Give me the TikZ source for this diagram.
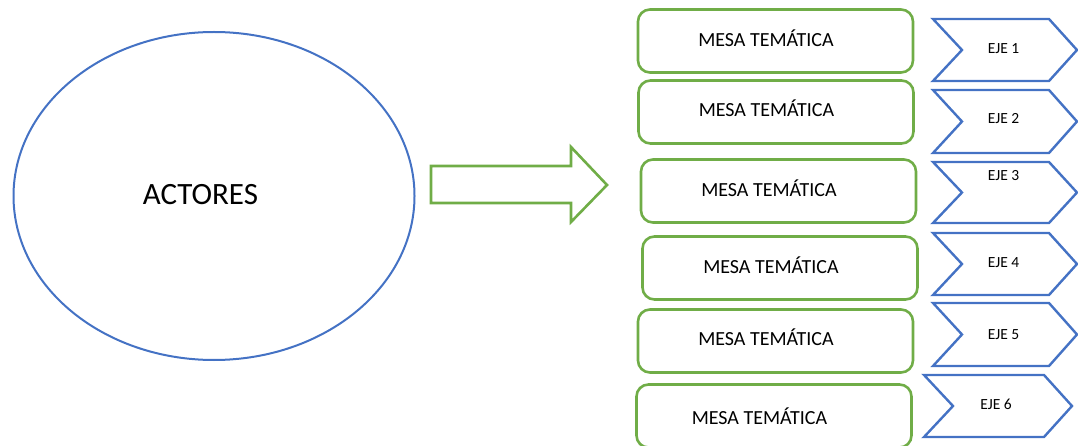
\documentclass[tikz,border=0pt]{standalone}
\usepackage{fontspec}
\setmainfont{Carlito}
\usetikzlibrary{shapes.geometric}
\definecolor{verde}{HTML}{70AD47}
\definecolor{azul}{HTML}{4472C4}

\begin{document}
\begin{tikzpicture}
	[x=1pt, y=-1pt,
	 actor/.style={ellipse, draw=azul, line width=2pt, minimum width=401pt, minimum height=328pt},
	 mesa/.style={rectangle, rounded corners=12pt, draw=verde, line width=2.6pt, minimum width=275pt, minimum height=63pt},
	 mesatxt/.style={anchor=base, inner sep=0pt, font=\fontsize{20}{24}\selectfont},
	 ejetxt/.style={anchor=base, inner sep=0pt, font=\fontsize{15.5}{18}\selectfont},
	 chevron/.style={draw=azul, line width=2.4pt, line join=miter}]
	\path[use as bounding box, clip] (0,0) rectangle (1078,446);
	\node[actor] (actores) at (214,196) {};
	\node[anchor=base, inner sep=0pt, font=\fontsize{31}{36}\selectfont] (actorestxt) at (200.5,205) {ACTORES};
	\draw[draw=verde, line width=2.6pt, line join=miter] (431,166) -- (571,166) -- (571,147) -- (607,185)
		-- (571,222) -- (571,203) -- (431,203) -- cycle;
	\foreach \n/\x/\y/\tx/\ty in {1/775.5/41/766/47, 2/776/112/766.5/117, 3/778.5/191/769/197,
		4/780/268/771/273, 5/775.5/341/766/345, 6/774/416/759.5/424}
	{
		\node[mesa] (mesa\n) at (\x,\y) {};
		\node[mesatxt] (mesatxt\n) at (\tx,\ty) {MESA TEMÁTICA};
	}
	\foreach \n/\l/\r/\t/\b/\tx/\ty in {1/933/1077/19/81/1003.5/54, 2/933/1077/90/153/1003.5/124,
		3/933/1077/162/223/1003.5/181, 4/933/1077/233/295/1003.5/267,
		5/933/1077/303/366/1003.5/339, 6/924/1072/375/437/996/409}
	{
		\draw[chevron] (\l,\t) -- ({\r-28},\t) -- (\r,{(\t+\b)/2}) -- ({\r-28},\b) -- (\l,\b)
			-- ({\l+29},{(\t+\b)/2}) -- cycle;
		\node[ejetxt] (eje\n) at (\tx,\ty) {EJE \n};
	}
\end{tikzpicture}
\end{document}
